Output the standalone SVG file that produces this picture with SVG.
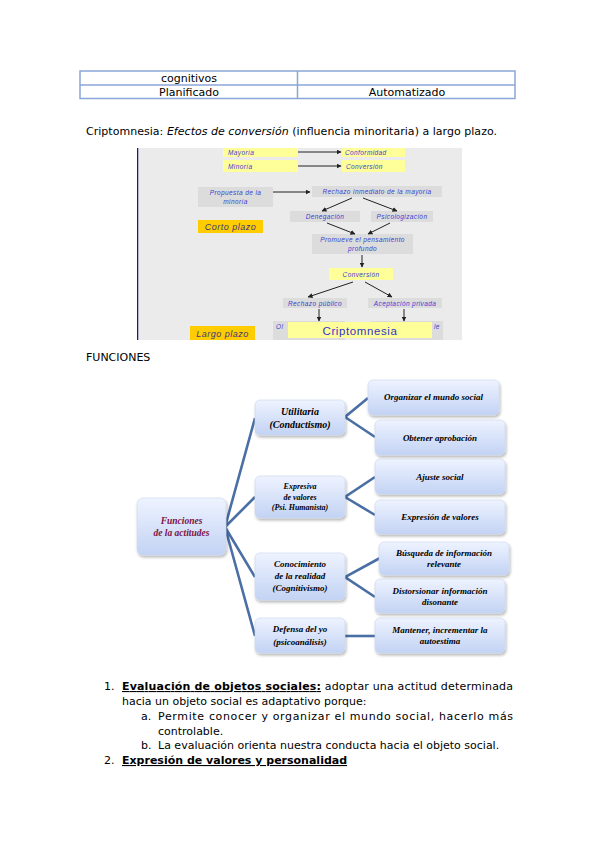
<svg xmlns="http://www.w3.org/2000/svg" width="599" height="848" viewBox="0 0 599 848">
<style>
.doc{font-family:"DejaVu Sans",sans-serif;font-size:11px;fill:#000}
.cell{fill:none;stroke:#8aa6d6;stroke-width:1.5}
.pt{font-family:"Liberation Sans",sans-serif;font-style:italic;font-size:6.5px;fill:#3c3cd0;letter-spacing:0.4px}
.yb{fill:#ffff99}
.gb{fill:#dcdcdc}
.ob{fill:#ffcc00}
.plz{font-family:"Liberation Sans",sans-serif;font-style:italic;font-size:9px;fill:#3a3a7a;letter-spacing:0.5px}
.ar{stroke:#222;stroke-width:1;fill:none;marker-end:url(#ah)}
.nd{fill:url(#ng);stroke:#c9d6ee;stroke-width:0.6;filter:url(#sh)}
.nt{font-family:"Liberation Serif",serif;font-style:italic;font-weight:bold;font-size:9px;fill:#000;text-anchor:middle}
.rt{fill:#7b1248;font-size:9.5px}
.cn{stroke:#4a6fa5;stroke-width:2.6;fill:none;stroke-linejoin:miter}
</style>
<defs>
<marker id="ah" markerWidth="5" markerHeight="5" refX="4.5" refY="2.5" orient="auto" markerUnits="userSpaceOnUse">
<path d="M0,0 L5,2.5 L0,5 z" fill="#222"/>
</marker>
<linearGradient id="ng" x1="0" y1="0" x2="0" y2="1">
<stop offset="0" stop-color="#eef3ff"/>
<stop offset="1" stop-color="#c3d3f4"/>
</linearGradient>
<filter id="sh" x="-10%" y="-10%" width="130%" height="140%">
<feDropShadow dx="1" dy="2" stdDeviation="1.5" flood-color="#000" flood-opacity="0.3"/>
</filter>
<clipPath id="pc"><rect x="137" y="148" width="325" height="192"/></clipPath>
</defs>
<rect width="599" height="848" fill="#fff"/>

<g id="table">
<rect class="cell" x="80" y="71" width="435" height="27.5"/>
<line class="cell" x1="80" y1="85" x2="515" y2="85"/>
<line class="cell" x1="297.5" y1="71" x2="297.5" y2="98.5"/>
<text class="doc" x="189" y="82" text-anchor="middle">cognitivos</text>
<text class="doc" x="189" y="96" text-anchor="middle">Planificado</text>
<text class="doc" x="407" y="96" text-anchor="middle">Automatizado</text>
</g>

<text class="doc" x="86" y="135" textLength="411">Criptomnesia: <tspan font-style="italic">Efectos de conversión</tspan> (influencia minoritaria) a largo plazo.</text>

<g id="picture" clip-path="url(#pc)">
<rect x="137" y="148" width="325" height="192" fill="#ebebeb"/>
<line x1="137.5" y1="148" x2="137.5" y2="340" stroke="#1a1a80" stroke-width="1.5"/>
<rect class="yb" x="223" y="146" width="75" height="11"/>
<text class="pt" x="228" y="155">Mayoría</text>
<rect class="yb" x="223" y="160" width="75" height="12"/>
<text class="pt" x="228" y="168.5">Minoría</text>
<rect class="yb" x="342" y="146" width="63" height="11"/>
<text class="pt" x="345" y="155">Conformidad</text>
<rect class="yb" x="342" y="160" width="63" height="12"/>
<text class="pt" x="346" y="168.5">Conversión</text>
<rect class="gb" x="198" y="187" width="75" height="20"/>
<text class="pt" x="235.5" y="194.5" text-anchor="middle">Propuesta de la</text>
<text class="pt" x="235.5" y="203.5" text-anchor="middle">minoría</text>
<rect class="gb" x="312" y="186" width="130" height="11"/>
<text class="pt" x="377" y="194" text-anchor="middle">Rechazo inmediato de la mayoría</text>
<rect class="ob" x="198" y="220" width="65" height="13"/>
<text class="plz" x="230.5" y="230" text-anchor="middle">Corto plazo</text>
<rect class="gb" x="290" y="211" width="70" height="11"/>
<text class="pt" x="325" y="219" text-anchor="middle">Denegación</text>
<rect class="gb" x="371" y="211" width="62" height="11"/>
<text class="pt" x="402" y="219" text-anchor="middle">Psicologización</text>
<rect class="gb" x="312" y="234" width="101" height="20"/>
<text class="pt" x="362.5" y="242" text-anchor="middle">Promueve el pensamiento</text>
<text class="pt" x="362.5" y="251" text-anchor="middle">profundo</text>
<rect class="yb" x="329" y="268" width="64" height="12"/>
<text class="pt" x="361" y="276.5" text-anchor="middle">Conversión</text>
<rect class="gb" x="283" y="298" width="64" height="10"/>
<text class="pt" x="315" y="305.5" text-anchor="middle">Rechazo público</text>
<rect class="gb" x="368" y="298" width="74" height="10"/>
<text class="pt" x="405" y="305.5" text-anchor="middle">Aceptación privada</text>
<rect class="gb" x="273" y="321" width="72" height="22"/>
<text class="pt" x="276" y="329">Ol</text>
<rect class="gb" x="370" y="321" width="73" height="22"/>
<text class="pt" x="434" y="329">le</text>
<rect class="yb" x="288" y="322" width="144" height="16"/>
<text x="360" y="334.5" text-anchor="middle" font-family="Liberation Sans, sans-serif" font-size="11.5" fill="#3333cc" letter-spacing="0.6">Criptomnesia</text>
<rect class="ob" x="190" y="326" width="65" height="16"/>
<text class="plz" x="222.5" y="337" text-anchor="middle">Largo plazo</text>
<g id="picture-arrows">
<line class="ar" x1="298" y1="152" x2="341" y2="152"/>
<line class="ar" x1="298" y1="166" x2="341" y2="166"/>
<line class="ar" x1="273" y1="192" x2="310" y2="192"/>
<line class="ar" x1="352" y1="198" x2="322" y2="211"/>
<line class="ar" x1="363" y1="198" x2="397" y2="211"/>
<line class="ar" x1="327" y1="223" x2="355" y2="234"/>
<line class="ar" x1="390" y1="223" x2="368" y2="234"/>
<line class="ar" x1="362" y1="255" x2="362" y2="267"/>
<line class="ar" x1="353" y1="282" x2="308" y2="297"/>
<line class="ar" x1="365" y1="282" x2="392" y2="297"/>
<line class="ar" x1="319" y1="309" x2="319" y2="321"/>
<line class="ar" x1="404" y1="309" x2="404" y2="321"/>
</g>
</g>

<text class="doc" x="86" y="361">FUNCIONES</text>

<g id="connectors">
<path class="cn" d="M255,418 L225,527 L255,497 M225,527 L255,577 M225,527 L255,636"/>
<path class="cn" d="M368,398 L345,417 L375,437"/>
<path class="cn" d="M375,477 L345,497 L375,515"/>
<path class="cn" d="M380,558 L345,577 L375,597"/>
<path class="cn" d="M345,636 L375,636"/>
</g>

<g id="n-root">
<rect class="nd" x="137" y="498" width="89" height="57" rx="6"/>
<text class="nt rt" x="181.5" y="524">Funciones</text>
<text class="nt rt" x="181.5" y="536">de la actitudes</text>
</g>
<g id="n-utilitaria">
<rect class="nd" x="255" y="400" width="90" height="35" rx="5"/>
<text class="nt" x="300" y="415" style="font-size:10px">Utilitaria</text>
<text class="nt" x="300" y="428" style="font-size:10px">(Conductismo)</text>
</g>
<g id="n-expresiva">
<rect class="nd" x="255" y="476" width="90" height="42" rx="5"/>
<text class="nt" x="300" y="489" style="font-size:8px">Expresiva</text>
<text class="nt" x="300" y="499.5" style="font-size:8px">de valores</text>
<text class="nt" x="300" y="510" style="font-size:8px">(Psi. Humanista)</text>
</g>
<g id="n-conocimiento">
<rect class="nd" x="255" y="553" width="90" height="47" rx="5"/>
<text class="nt" x="300" y="567">Conocimiento</text>
<text class="nt" x="300" y="579">de la realidad</text>
<text class="nt" x="300" y="591">(Cognitivismo)</text>
</g>
<g id="n-defensa">
<rect class="nd" x="255" y="618" width="90" height="35" rx="5"/>
<text class="nt" x="300" y="632">Defensa del yo</text>
<text class="nt" x="300" y="645">(psicoanálisis)</text>
</g>
<g id="n-organizar">
<rect class="nd" x="368" y="380" width="131" height="35" rx="5"/>
<text class="nt" x="433.5" y="400">Organizar el mundo social</text>
</g>
<g id="n-obtener">
<rect class="nd" x="375" y="420" width="130" height="35" rx="5"/>
<text class="nt" x="440" y="441">Obtener aprobación</text>
</g>
<g id="n-ajuste">
<rect class="nd" x="375" y="459" width="130" height="35" rx="5"/>
<text class="nt" x="440" y="480">Ajuste social</text>
</g>
<g id="n-expresion">
<rect class="nd" x="375" y="500" width="130" height="34" rx="5"/>
<text class="nt" x="440" y="520">Expresión de valores</text>
</g>
<g id="n-busqueda">
<rect class="nd" x="379" y="542" width="130" height="33" rx="5"/>
<text class="nt" x="444" y="556">Búsqueda de información</text>
<text class="nt" x="444" y="567">relevante</text>
</g>
<g id="n-distorsionar">
<rect class="nd" x="375" y="579" width="130" height="34" rx="5"/>
<text class="nt" x="440" y="594">Distorsionar información</text>
<text class="nt" x="440" y="605">disonante</text>
</g>
<g id="n-mantener">
<rect class="nd" x="375" y="618" width="130" height="35" rx="5"/>
<text class="nt" x="440" y="633">Mantener, incrementar la</text>
<text class="nt" x="440" y="644">autoestima</text>
</g>

<g id="list">
<text class="doc" x="104" y="690">1.</text>
<text class="doc" x="122" y="690" textLength="391"><tspan font-weight="bold" text-decoration="underline">Evaluación de objetos sociales:</tspan> adoptar una actitud determinada</text>
<text class="doc" x="122" y="705">hacia un objeto social es adaptativo porque:</text>
<text class="doc" x="141" y="720">a.</text>
<text class="doc" x="158" y="720" textLength="355">Permite conocer y organizar el mundo social, hacerlo más</text>
<text class="doc" x="158" y="735">controlable.</text>
<text class="doc" x="141" y="749">b.</text>
<text class="doc" x="158" y="749">La evaluación orienta nuestra conducta hacia el objeto social.</text>
<text class="doc" x="104" y="764">2.</text>
<text class="doc" x="122" y="764" font-weight="bold" text-decoration="underline">Expresión de valores y personalidad</text>
</g>
</svg>
